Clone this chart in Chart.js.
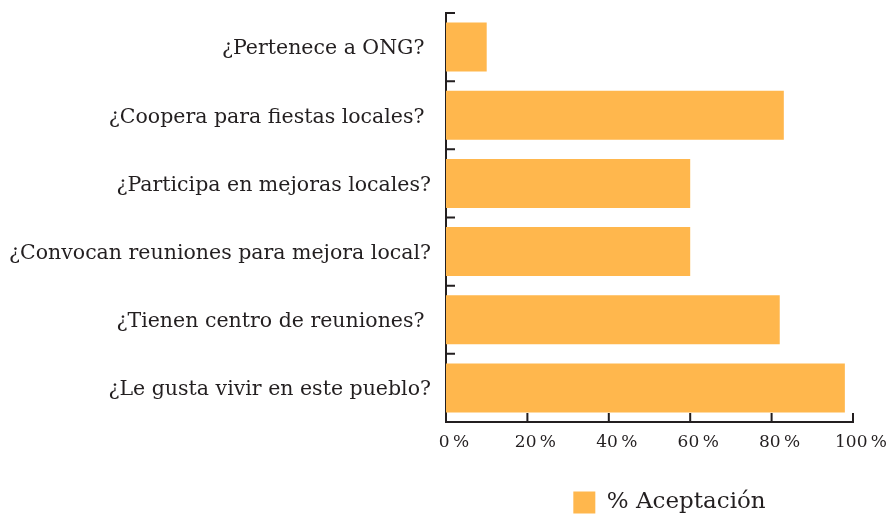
<!DOCTYPE html>
<html>
<head>
<meta charset="utf-8">
<script src="https://cdn.jsdelivr.net/npm/chart.js@4"></script>
<style>
  html, body { margin: 0; padding: 0; background: #fff; }
  #wrap { width: 887px; height: 515px; }
</style>
</head>
<body>
<div id="wrap"><canvas id="chart"></canvas></div>
<script>
// Data (trailing spaces are in the original labels)
const categories = [
  "¿Pertenece a ONG? ",
  "¿Coopera para fiestas locales? ",
  "¿Participa en mejoras locales?",
  "¿Convocan reuniones para mejora local?",
  "¿Tienen centro de reuniones? ",
  "¿Le gusta vivir en este pueblo?"
];
const acceptance = [10, 83, 60, 60, 82, 98];
const xTicks = [0, 20, 40, 60, 80, 100];
const seriesName = "% Aceptación";

const barColor = "#ffb74d";
const axisColor = "#231f20";
const textColor = "#231f20";
const serif = "'DejaVu Serif', serif";

// Ticks in the reference point inwards, so draw them on top of the plot area.
const innerTicks = {
  id: "innerTicks",
  afterDraw(chart) {
    const { ctx, chartArea, scales } = chart;
    const xs = scales.x, ys = scales.y;
    const half = (ys.getPixelForValue(1) - ys.getPixelForValue(0)) / 2;
    ctx.save();
    ctx.strokeStyle = axisColor;
    ctx.lineWidth = 2;
    ctx.beginPath();
    xTicks.forEach((v) => {
      const px = xs.getPixelForValue(v);
      ctx.moveTo(px, chartArea.bottom);
      ctx.lineTo(px, chartArea.bottom - 9);
    });
    categories.forEach((c, i) => {
      const py = ys.getPixelForValue(i) - half;
      ctx.moveTo(chartArea.left - 1, py);
      ctx.lineTo(chartArea.left + 9, py);
    });
    ctx.stroke();
    ctx.restore();
  }
};

// Legend sits a little right of the plot centre and low in the reference.
const legendShift = {
  id: "legendShift",
  afterLayout(chart) {
    const lg = chart.legend;
    lg.left += 20;
    lg.right += 20;
    lg.top += 9;
    lg.bottom += 9;
  }
};

new Chart(document.getElementById("chart"), {
  type: "bar",
  data: {
    labels: categories,
    datasets: [{
      label: seriesName,
      data: acceptance,
      backgroundColor: barColor,
      borderWidth: 0,
      barPercentage: 0.72,
      categoryPercentage: 1
    }]
  },
  options: {
    indexAxis: "y",
    responsive: true,
    maintainAspectRatio: false,
    animation: false,
    layout: { padding: { top: 13, right: 34, left: 0, bottom: 0 } },
    scales: {
      x: {
        min: 0,
        max: 100,
        grid: { display: false, drawTicks: false },
        border: { display: true, color: axisColor, width: 2 },
        ticks: {
          stepSize: 20,
          padding: 10,
          labelOffset: 8,
          color: textColor,
          font: { family: serif, size: 17 },
          callback: (v) => v + "\u2009%"
        },
        afterFit: (scale) => {
          scale.height = 58;
          scale.paddingLeft = 0;
          scale.paddingRight = 0;
        }
      },
      y: {
        grid: { display: false, drawTicks: false },
        border: { display: true, color: axisColor, width: 2 },
        ticks: {
          padding: 15,
          labelOffset: 2,
          color: textColor,
          font: { family: serif, size: 20.5 }
        },
        afterFit: (scale) => {
          scale.width = 446;
          scale.paddingTop = 0;
          scale.paddingBottom = 0;
        }
      }
    },
    plugins: {
      legend: {
        position: "bottom",
        fullSize: false,
        labels: {
          boxWidth: 22,
          boxHeight: 22,
          padding: 2,
          color: textColor,
          font: { family: serif, size: 23 }
        }
      },
      tooltip: { enabled: false }
    }
  },
  plugins: [innerTicks, legendShift]
});
</script>
</body>
</html>
